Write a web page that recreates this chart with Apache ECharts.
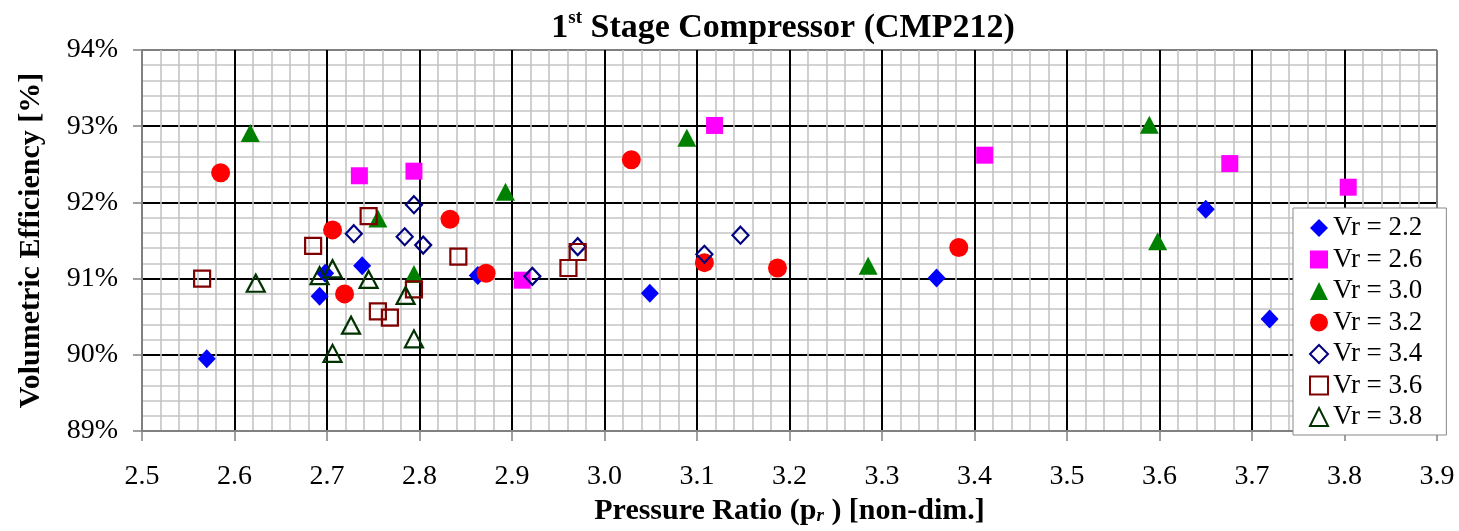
<!DOCTYPE html>
<html>
<head>
<meta charset="utf-8">
<script src="https://cdn.jsdelivr.net/npm/echarts@6/dist/echarts.min.js"></script>
<style>html,body{margin:0;padding:0;background:#fff;}#c{width:1459px;height:531px;}</style>
</head>
<body>
<div id="c"></div>
<script>
// Data: [pressure ratio, volumetric efficiency %]
const vr22 = [[2.570,89.95],[2.692,90.77],[2.698,91.07],[2.738,91.17],[2.863,91.04],[3.049,90.81],[3.359,91.01],[3.650,91.91],[3.719,90.47]];
const vr26 = [[2.735,92.35],[2.794,92.41],[2.911,90.98],[3.119,93.01],[3.411,92.62],[3.676,92.51],[3.804,92.20]];
const vr30 = [[2.617,92.91],[2.755,91.79],[2.794,91.06],[2.893,92.14],[3.089,92.85],[3.285,91.17],[3.589,93.02],[3.598,91.49]];
const vr32 = [[2.585,92.39],[2.706,91.64],[2.719,90.80],[2.833,91.78],[2.872,91.07],[3.029,92.56],[3.108,91.21],[3.187,91.14],[3.383,91.41]];
const vr34 = [[2.729,91.59],[2.784,91.55],[2.794,91.97],[2.804,91.44],[2.922,91.03],[2.971,91.42],[3.108,91.32],[3.147,91.57]];
const vr36 = [[2.565,91.00],[2.685,91.43],[2.745,91.82],[2.755,90.57],[2.768,90.49],[2.794,90.86],[2.842,91.29],[2.961,91.14],[2.971,91.35]];
const vr38 = [[2.623,90.94],[2.692,91.04],[2.706,91.13],[2.706,90.02],[2.726,90.39],[2.745,90.99],[2.785,90.78],[2.794,90.21]];
const seriesNames = ['Vr = 2.2','Vr = 2.6','Vr = 3.0','Vr = 3.2','Vr = 3.4','Vr = 3.6','Vr = 3.8'];
const xTicks = [2.5,2.6,2.7,2.8,2.9,3.0,3.1,3.2,3.3,3.4,3.5,3.6,3.7,3.8,3.9];
const yTicks = [89,90,91,92,93,94];

const FF = '"Liberation Serif","Times New Roman",serif';
const chart = echarts.init(document.getElementById('c'), null, {renderer:'canvas'});

const xLineColors = xTicks.map((v,i)=> (i===0||i===xTicks.length-1) ? '#808080' : '#000');
const yLineColors = yTicks.map((v,i)=> (i===0||i===yTicks.length-1) ? '#808080' : '#000');

function filled(name, data, symbol, size, color){
  return {name, type:'scatter', data, symbol, symbolSize:size,
    itemStyle:{color, opacity:1}, emphasis:{disabled:true}};
}
function open(name, data, symbol, size, color){
  return {name, type:'scatter', data, symbol, symbolSize:size,
    itemStyle:{color:'rgba(255,255,255,0)', borderColor:color, borderWidth:2.2, opacity:1}, emphasis:{disabled:true}};
}

chart.setOption({
  animation:false,
  backgroundColor:'#fff',
  title:{
    text:'{n|1}{s|st}{n| Stage Compressor (CMP212)}',
    left:778, top:4, textAlign:'center',
    textStyle:{rich:{
      n:{fontSize:34, fontWeight:'bold', fontFamily:FF, color:'#000', lineHeight:38},
      s:{fontSize:19, fontWeight:'bold', fontFamily:FF, color:'#000', verticalAlign:'top', lineHeight:20}
    }}
  },
  grid:{left:142, right:22, top:50, bottom:94, containLabel:false, show:false},
  legend:{
    orient:'vertical', left:1293, top:208,
    itemWidth:18, itemHeight:18, itemGap:3.5,
    padding:[6,24,4,16],
    backgroundColor:'#fff', borderColor:'#888', borderWidth:1,
    textStyle:{fontSize:27, fontFamily:FF, color:'#000', lineHeight:28},
    data:seriesNames
  },
  xAxis:{
    type:'value', min:2.5, max:3.9, interval:0.1,
    name:'{n|Pressure Ratio (p}{r|r}{n| ) [non-dim.]}',
    nameLocation:'middle', nameGap:62,
    nameTextStyle:{rich:{
      n:{fontSize:30, fontWeight:'bold', fontFamily:FF, color:'#000'},
      r:{fontSize:19, fontWeight:'bold', fontStyle:'italic', fontFamily:FF, color:'#000', verticalAlign:'bottom'}
    }},
    axisLine:{show:true, onZero:false, lineStyle:{color:'#808080', width:2}},
    axisTick:{show:true, length:10, lineStyle:{color:'#808080', width:1.5}},
    axisLabel:{margin:32, fontSize:28, fontFamily:FF, color:'#000', formatter:v=>v.toFixed(1)},
    splitLine:{show:true, lineStyle:{color:xLineColors, width:2}},
    minorTick:{show:false, splitNumber:5},
    minorSplitLine:{show:true, lineStyle:{color:'#c4c4c4', width:1.6}}
  },
  yAxis:{
    type:'value', min:89, max:94, interval:1,
    name:'Volumetric Efficiency [%]',
    nameLocation:'middle', nameGap:96, nameRotate:90,
    nameTextStyle:{fontSize:30, fontWeight:'bold', fontFamily:FF, color:'#000'},
    axisLine:{show:true, onZero:false, lineStyle:{color:'#808080', width:2}},
    axisTick:{show:true, length:9, lineStyle:{color:'#808080', width:1.5}},
    axisLabel:{margin:24, fontSize:28, fontFamily:FF, color:'#000', formatter:'{value}%'},
    splitLine:{show:true, lineStyle:{color:yLineColors, width:2}},
    minorTick:{show:false, splitNumber:5},
    minorSplitLine:{show:true, lineStyle:{color:'#c4c4c4', width:1.6}}
  },
  series:[
    filled(seriesNames[0], vr22, 'diamond', [18,19], '#0000ff'),
    filled(seriesNames[1], vr26, 'rect', 17, '#ff00ff'),
    filled(seriesNames[2], vr30, 'triangle', [19,18], '#008000'),
    filled(seriesNames[3], vr32, 'circle', 19, '#ff0000'),
    open(seriesNames[4], vr34, 'diamond', [16,17], '#000080'),
    open(seriesNames[5], vr36, 'rect', 16, '#800000'),
    open(seriesNames[6], vr38, 'triangle', [18,17], '#003300')
  ]
});
</script>
</body>
</html>
